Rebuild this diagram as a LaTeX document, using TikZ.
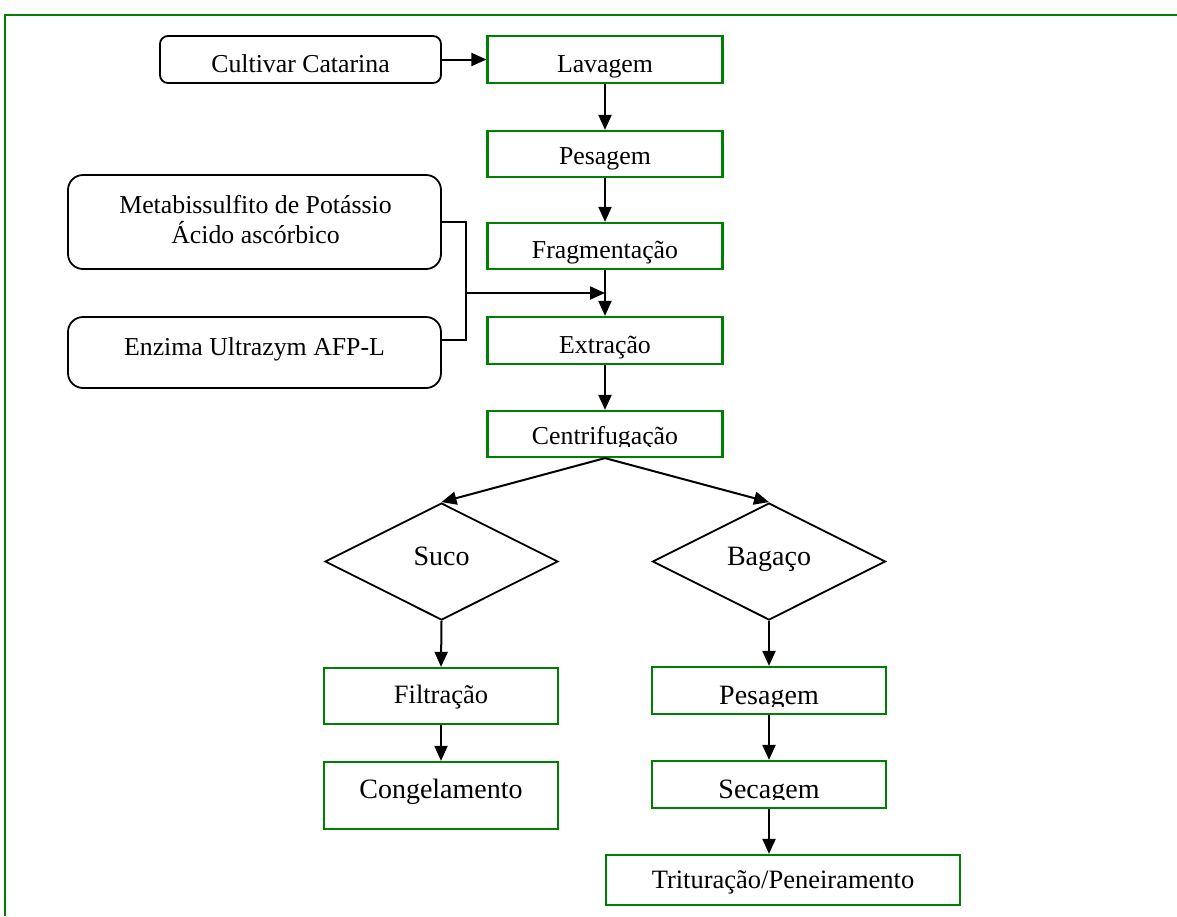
\documentclass[tikz,border=0pt]{standalone}
\usepackage{fontspec}
\setmainfont{Liberation Serif}
\usetikzlibrary{shapes.geometric,arrows.meta}
\definecolor{fgreen}{RGB}{0,128,0}
\begin{document}
\begin{tikzpicture}[x=1pt,y=-1pt,
 gbox/.style={draw=fgreen, line width=2.2pt, rectangle, inner sep=0pt},
 rbox/.style={draw=black, line width=1.8pt, rectangle, rounded corners=8pt, inner sep=0pt},
 dia/.style={draw=black, line width=1.8pt, diamond, inner sep=0pt, aspect=2},
 txt/.style={inner sep=0pt, anchor=base, font=\fontsize{25.8}{30}\selectfont},
 big/.style={txt, font=\fontsize{28}{33}\selectfont},
 mid/.style={txt, font=\fontsize{26.5}{31}\selectfont},
 arr/.style={draw=black, line width=2pt, -{Triangle[length=15pt,width=13pt]}},
 ln/.style={draw=black, line width=1.8pt},
 frame/.style={draw=fgreen, line width=2.2pt},
]
\useasboundingbox (0,0) rectangle (1177,916);
\draw[frame] (5,916) -- (5,15) -- (1177,15);

% top row
\node[rbox, minimum width=281pt, minimum height=47pt] (cult) at (300.5,59.5) {};
\node[txt] (cultt) at (300.5,72) {Cultivar Catarina};
\node[gbox, minimum width=235pt, minimum height=47pt] (lav) at (605,59.5) {};
\node[txt] (lavt) at (605,72) {Lavagem};

% main column
\node[gbox, minimum width=235pt, minimum height=46pt] (pes) at (605,154) {};
\node[txt] (pest) at (605,164) {Pesagem};
\node[gbox, minimum width=235pt, minimum height=46pt] (frag) at (605,246) {};
\node[txt] (fragt) at (605,258) {Fragmentação};
\node[gbox, minimum width=235pt, minimum height=47pt] (ext) at (605,340.5) {};
\node[txt] (extt) at (605,353) {Extração};
\node[gbox, minimum width=235pt, minimum height=46pt] (cen) at (605,434) {};
\begin{scope}
\clip (487,411) rectangle (722,446);
\node[txt] (cent) at (605,444) {Centrifugação};
\end{scope}

% additives
\node[rbox, rounded corners=15pt, minimum width=373pt, minimum height=94pt] (met) at (254.5,222) {};
\node[txt] (met1) at (255.5,213) {Metabissulfito de Potássio};
\node[txt] (met2) at (255.5,243) {Ácido ascórbico};
\node[rbox, rounded corners=15pt, minimum width=373pt, minimum height=71pt] (enz) at (254.5,352.5) {};
\node[txt] (enzt) at (254.5,355) {Enzima Ultrazym AFP-L};
\coordinate (j1) at (466,222);
\coordinate (j2) at (466,340);
\coordinate (j3) at (466,293);

% diamonds
\node[dia, minimum width=233pt, minimum height=117pt] (suco) at (441.5,561.5) {};
\node[big] (sucot) at (441.5,565) {Suco};
\node[dia, minimum width=233pt, minimum height=117pt] (bag) at (769,561.5) {};
\node[big] (bagt) at (769,565) {Bagaço};

% left branch
\node[gbox, minimum width=234pt, minimum height=56pt] (fil) at (441,696) {};
\node[mid] (filt) at (441,703) {Filtração};
\node[gbox, minimum width=234pt, minimum height=67pt] (con) at (441,795.5) {};
\node[big] (cont) at (441,798) {Congelamento};

% right branch
\node[gbox, minimum width=234pt, minimum height=47pt] (pes2) at (769,690.5) {};
\begin{scope}
\clip (652,667) rectangle (886,706);
\node[big] (pes2t) at (769,704) {Pesagem};
\end{scope}
\node[gbox, minimum width=234pt, minimum height=47pt] (sec) at (769,784.5) {};
\begin{scope}
\clip (652,761) rectangle (886,799);
\node[big] (sect) at (769,798) {Secagem};
\end{scope}
\node[gbox, minimum width=354pt, minimum height=50pt] (tri) at (783,880) {};
\node[mid] (trit) at (783,888) {Trituração/Peneiramento};

% connectors
\draw[arr] (cult.east) -- (lav.west);
\draw[arr] (lav.south) -- (pes.north);
\draw[arr] (pes.south) -- (frag.north);
\draw[arr] (frag.south) -- (ext.north);
\draw[ln] (met.east |- j1) -- (j1) -- (j2) -- (enz.east |- j2);
\draw[arr] (j3) -- (j3 -| frag.south);
\draw[arr] (ext.south) -- (cen.north);
\draw[arr] (cen.south) -- (suco.north);
\draw[arr] (cen.south) -- (bag.north);
\draw[arr] (suco.south) -- (fil.north);
\draw[arr] (fil.south) -- (con.north);
\draw[arr] (bag.south) -- (pes2.north);
\draw[arr] (pes2.south) -- (sec.north);
\draw[arr] (sec.south) -- (sec.south |- tri.north);
\end{tikzpicture}
\end{document}
